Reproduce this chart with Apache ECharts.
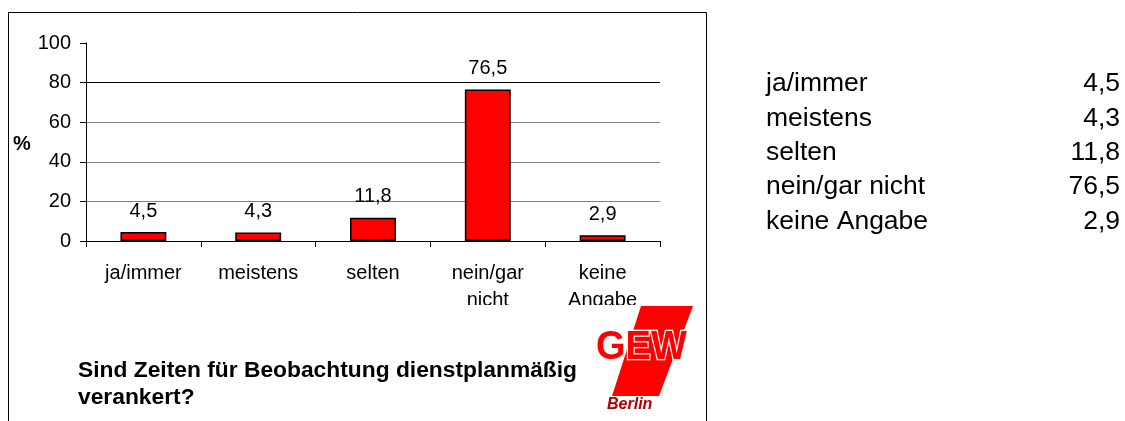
<!DOCTYPE html>
<html>
<head>
<meta charset="utf-8">
<script src="https://cdn.jsdelivr.net/npm/echarts@6/dist/echarts.min.js"></script>
<style>
  html, body { margin: 0; padding: 0; background: #fff; }
  #main { width: 1125px; height: 421px; }
</style>
</head>
<body>
<div id="main"></div>
<script>
  var categories = ['ja/immer', 'meistens', 'selten', 'nein/gar nicht', 'keine Angabe'];
  var values = [4.5, 4.3, 11.8, 76.5, 2.9];
  var yTicks = [0, 20, 40, 60, 80, 100];
  var titleText = 'Sind Zeiten für Beobachtung dienstplanmäßig\nverankert?';

  var font = '"Liberation Sans", Arial, sans-serif';
  var dom = document.getElementById('main');
  var myChart = echarts.init(dom, null, { renderer: 'canvas' });

  function comma(v) {
    return String(v).replace('.', ',');
  }

  // table on the right, one row per category
  var tableItems = [];
  for (var i = 0; i < categories.length; i++) {
    var y = 85.5 + i * 34.3;
    tableItems.push({
      type: 'text', left: 766, top: y - 15,
      style: { text: categories[i], font: '26.5px ' + font, fill: '#000' }
    });
    tableItems.push({
      type: 'text', right: 5, top: y - 15,
      style: { text: comma(values[i]), font: '26.5px ' + font, fill: '#000', textAlign: 'right' }
    });
  }

  var option = {
    animation: false,
    backgroundColor: '#fff',
    textStyle: { fontFamily: font },
    title: {
      text: titleText,
      left: 73,
      top: 352,
      textStyle: { fontSize: 22.8, fontWeight: 'bold', color: '#000', lineHeight: 27, fontFamily: font }
    },
    grid: { left: 86, top: 43, right: 465, bottom: 180 },
    xAxis: {
      type: 'category',
      data: categories,
      axisLine: { lineStyle: { color: '#000', width: 1 } },
      axisTick: { show: true, length: 6, lineStyle: { color: '#000' } },
      axisLabel: {
        color: '#000', fontSize: 20, lineHeight: 27, margin: 19,
        interval: 0,
        formatter: function (v) { return v.replace(' ', '\n'); }
      }
    },
    yAxis: {
      type: 'value',
      min: yTicks[0],
      max: yTicks[yTicks.length - 1],
      interval: yTicks[1] - yTicks[0],
      axisLine: { show: true, lineStyle: { color: '#000', width: 1 } },
      axisTick: { show: true, length: 6, lineStyle: { color: '#000' } },
      axisLabel: { color: '#000', fontSize: 20, margin: 15 },
      splitLine: {
        show: true,
        showMaxLine: false,
        lineStyle: { color: ['#000', '#808080', '#808080', '#808080', '#000', '#000'], width: 1 }
      }
    },
    series: [{
      type: 'bar',
      data: values,
      barWidth: '40%',
      itemStyle: { color: '#ff0000', borderColor: '#000', borderWidth: 1.5 },
      label: {
        show: true, position: 'top', distance: 11,
        color: '#000', fontSize: 20,
        formatter: function (p) { return comma(p.value); }
      }
    }],
    graphic: {
      elements: [
        // outer frame
        { type: 'rect', z: 50, shape: { x: 8.5, y: 12.5, width: 698, height: 430 },
          style: { fill: 'none', stroke: '#000', lineWidth: 1 } },
        // clip second label line like the original
        { type: 'rect', z: 100, shape: { x: 200, y: 305, width: 480, height: 30 },
          style: { fill: '#fff' } },
        { type: 'text', z: 100, left: 13, top: 134,
          style: { text: '%', font: 'bold 20px ' + font, fill: '#000' } },
        // GEW logo
        { type: 'polygon', z: 101, shape: { points: [[641, 306], [693, 306], [659, 396], [612, 396]] },
          style: { fill: '#ff0000' } },
        { type: 'text', z: 102, x: 596, y: 328, scaleX: 0.95,
          style: { text: 'GEW', font: 'bold 40px ' + font, fill: '#ff0000',
                   stroke: '#fff', lineWidth: 2.5 } },
        { type: 'text', z: 102, left: 607, top: 397,
          style: { text: 'Berlin', font: 'italic bold 16px ' + font, fill: '#b00000' } }
      ].concat(tableItems)
    }
  };

  myChart.setOption(option);
</script>
</body>
</html>
